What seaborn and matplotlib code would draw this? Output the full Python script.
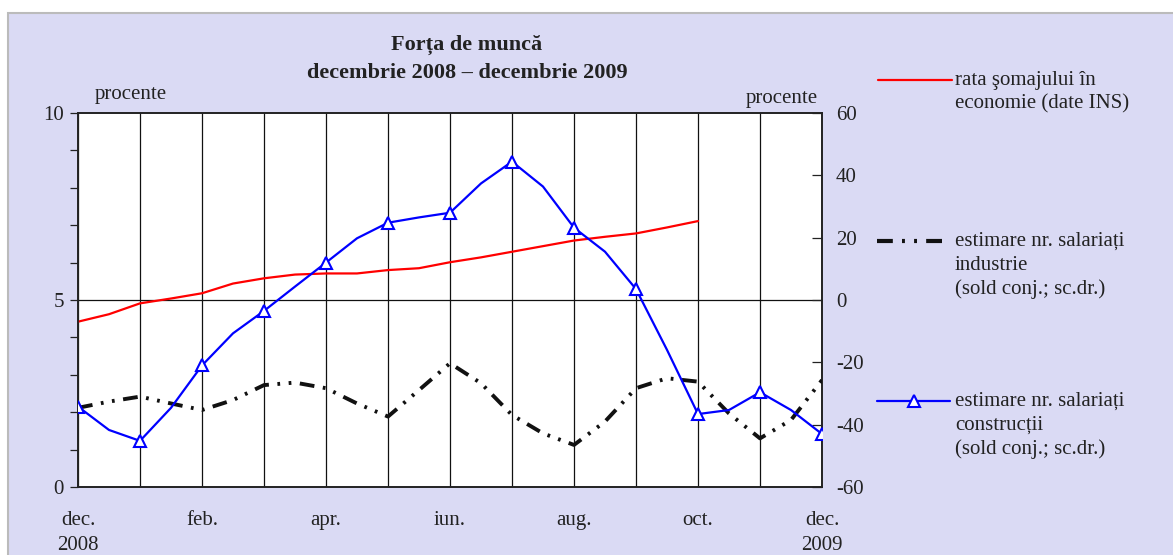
import numpy as np
import pandas as pd
import matplotlib
matplotlib.use("Agg")
import matplotlib.pyplot as plt
from matplotlib.lines import Line2D
from matplotlib.patches import Rectangle
import seaborn as sns

# values every half month, dec 2008 .. dec 2009
rata_somaj = [4.42, 4.62, 4.91, 5.04, 5.18, 5.44, 5.58, 5.68, 5.71, 5.71, 5.80,
              5.85, 6.01, 6.14, 6.29, 6.44, 6.59, 6.69, 6.78, 6.94, 7.11]
industrie = [-34.6, -32.6, -31.0, -33.2, -35.3, -32.1, -27.3, -26.5, -28.3,
             -33.2, -37.4, -28.9, -20.3, -26.7, -36.9, -42.8, -46.5, -39.0,
             -28.3, -25.1, -26.2, -36.4, -44.4, -38.5, -25.7]
constructii = [-34.2, -41.7, -45.2, -34.6, -21.0, -10.7, -3.5, 4.3, 12.0,
               19.8, 24.8, 26.5, 28.0, 37.4, 44.4, 36.4, 23.2, 15.5, 3.5,
               -16.0, -36.6, -35.3, -29.6, -35.3, -43.0]
luni = ["dec.\n2008", "", "feb.", "", "apr.", "", "iun.", "", "aug.", "",
        "oct.", "", "dec.\n2009"]

W, H = 1173, 555
BG = "#dadaf4"
TXT = "#222222"
DASH = (3.8, 2.2, 0.7, 2.2, 0.7, 2.2)

sns.set_style("white")
plt.rcParams["font.family"] = ["Liberation Serif", "DejaVu Serif"]
plt.rcParams["font.size"] = 15
plt.rcParams["axes.unicode_minus"] = False

df_r = pd.DataFrame({"t": np.arange(len(rata_somaj)) * 0.5, "v": rata_somaj})
df_i = pd.DataFrame({"t": np.arange(len(industrie)) * 0.5, "v": industrie})
df_c = pd.DataFrame({"t": np.arange(len(constructii)) * 0.5, "v": constructii})

fig = plt.figure(figsize=(W / 100, H / 100), dpi=100)
fig.patch.set_facecolor("white")
fig.add_artist(Rectangle((8 / W, -0.1), 1.2, 1 - 13 / H + 0.1,
                         transform=fig.transFigure, facecolor=BG,
                         edgecolor="#bbbbbb", linewidth=1.5, zorder=0))


def px(x, y):
    return x / W, 1 - y / H


ax = fig.add_axes([78 / W, (H - 487) / H, (822 - 78) / W, (487 - 113) / H])
ax.set_facecolor("white")
ax2 = ax.twinx()

for m in range(13):
    ax.axvline(m, color="#111111", lw=0.9, zorder=1)
ax.axhline(5, color="#111111", lw=0.9, zorder=1)

sns.lineplot(data=df_r, x="t", y="v", ax=ax, color="#ff0000", lw=1.6,
             zorder=3)
sns.lineplot(data=df_i, x="t", y="v", ax=ax2, color="#111111", lw=2.8,
             dashes=False, zorder=3)
ax2.lines[-1].set_dashes(DASH)
sns.lineplot(data=df_c, x="t", y="v", ax=ax2, color="#0000ff", lw=1.6,
             marker="^", markevery=2, markersize=8, markerfacecolor="white",
             markeredgecolor="#0000ff", markeredgewidth=1.5, zorder=4)

ax.set_xlim(0, 12)
ax.set_ylim(0, 10)
ax2.set_ylim(-60, 60)
ax.set_xticks(range(13))
ax.set_xticklabels(luni, linespacing=1.45, color=TXT)
ax.set_yticks([0, 5, 10])
ax.set_yticks(range(11), minor=True)
ax2.set_yticks(range(-60, 61, 20))
ax.set_xlabel("")
ax.set_ylabel("")
ax2.set_xlabel("")
ax2.set_ylabel("")
ax.tick_params(axis="x", length=0, pad=17, colors=TXT)
ax.tick_params(axis="y", which="both", direction="out", length=6,
               width=0.9, left=True, pad=4, colors=TXT)
ax2.tick_params(axis="y", direction="in", length=7, width=0.9, right=True,
                pad=10, colors=TXT)
for a in (ax, ax2):
    for s in a.spines.values():
        s.set_color("#222222")
        s.set_linewidth(1.2)

fig.text(*px(467, 45), "Forța de muncă", ha="center", va="center",
         fontweight="bold", fontsize=16, color=TXT)
fig.text(*px(467, 73), "decembrie 2008 – decembrie 2009", ha="center",
         va="center", fontweight="bold", fontsize=16, color=TXT)
fig.text(*px(95, 95), "procente", ha="left", va="center", color=TXT)
fig.text(*px(818, 98), "procente", ha="right", va="center", color=TXT)

# legend drawn by hand, the entries are spread down the right side
fig.add_artist(Line2D([878 / W, 952 / W], [1 - 80 / H] * 2, color="#ff0000",
                      lw=1.6))
fig.text(*px(955, 80), "rata şomajului în", va="center", color=TXT)
fig.text(*px(955, 104), "economie (date INS)", va="center", color=TXT)

ln = Line2D([877 / W, 950 / W], [1 - 241 / H] * 2, color="#111111", lw=3)
ln.set_dashes(DASH)
fig.add_artist(ln)
for i, t in enumerate(["estimare nr. salariați", "industrie",
                       "(sold conj.; sc.dr.)"]):
    fig.text(*px(955, 241 + 24 * i), t, va="center", color=TXT)

fig.add_artist(Line2D([877 / W, 950 / W], [1 - 401 / H] * 2,
                      color="#0000ff", lw=1.6))
fig.add_artist(Line2D([914 / W], [1 - 401 / H], marker="^", markersize=8,
                      markerfacecolor="white", markeredgecolor="#0000ff",
                      markeredgewidth=1.5))
for i, t in enumerate(["estimare nr. salariați", "construcții",
                       "(sold conj.; sc.dr.)"]):
    fig.text(*px(955, 401 + 24 * i), t, va="center", color=TXT)

if ax.get_legend():
    ax.get_legend().remove()

fig.savefig("out.png", dpi=100)
